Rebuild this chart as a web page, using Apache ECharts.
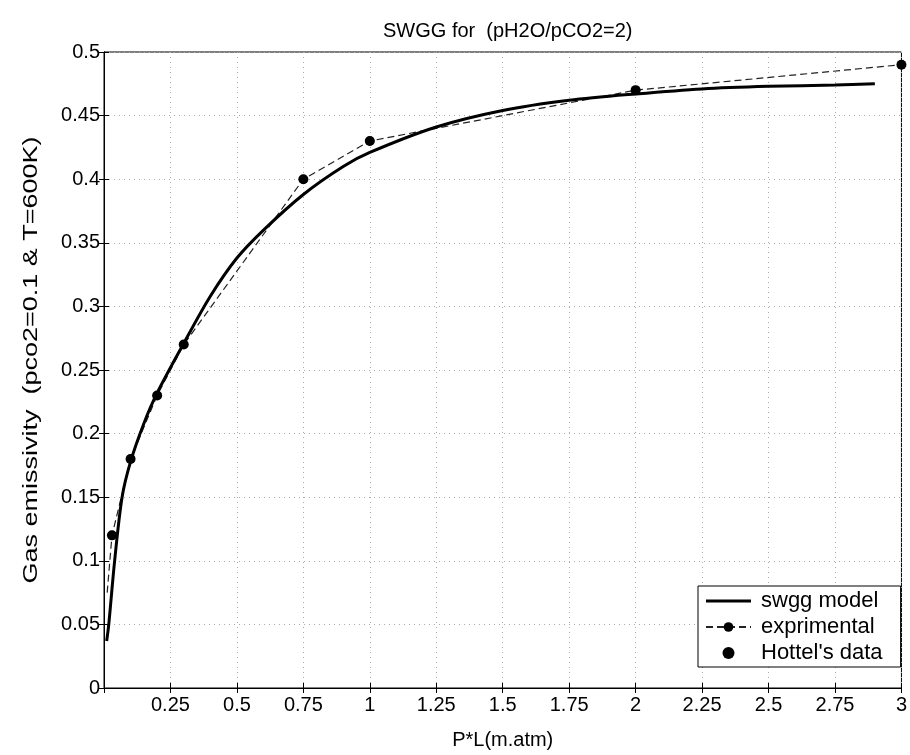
<!DOCTYPE html>
<html>
<head>
<meta charset="utf-8">
<script src="https://cdn.jsdelivr.net/npm/echarts@6/dist/echarts.min.js"></script>
<style>
  html, body { margin: 0; padding: 0; background: #fff; }
  #chart { width: 910px; height: 755px; }
</style>
</head>
<body>
<div id="chart"></div>
<script>
// swgg model curve
const modelX = [0.01, 0.018, 0.04, 0.068, 0.1, 0.15, 0.2, 0.3, 0.4, 0.5, 0.6, 0.75, 0.9, 1.0, 1.25, 1.5, 1.75, 2.0, 2.25, 2.5, 2.75, 2.9];
const modelY = [0.037, 0.05, 0.1, 0.15, 0.178, 0.208, 0.232, 0.271, 0.308, 0.338, 0.36, 0.388, 0.41, 0.421, 0.441, 0.454, 0.462, 0.467, 0.471, 0.473, 0.474, 0.475];

// experimental (dashed) line, first point has no marker
const expX = [0.012, 0.03, 0.1, 0.2, 0.3, 0.75, 1.0, 2.0, 3.0];
const expY = [0.075, 0.12, 0.18, 0.23, 0.27, 0.40, 0.43, 0.47, 0.49];

// Hottel's data points
const hottelX = [0.03, 0.1, 0.2, 0.3, 0.75, 1.0, 2.0, 3.0];
const hottelY = [0.12, 0.18, 0.23, 0.27, 0.40, 0.43, 0.47, 0.49];

const font = 'Liberation Sans, Arial, sans-serif';
const yName = 'Gas emissivity  (pco2=0.1 & T=600K)';

let myChart = echarts.init(document.getElementById('chart'));

const zip = (xs, ys) => xs.map((x, i) => [x, ys[i]]);

let expData = zip(expX, expY).map((p, i) => i === 0 ? { value: p, symbol: 'none' } : p);

let opt = {
  animation: false,
  backgroundColor: '#fff',
  title: {
    text: 'SWGG for  (pH2O/pCO2=2)',
    left: 378,
    top: 16,
    textStyle: { color: '#000', fontWeight: 'normal', fontSize: 20, fontFamily: font }
  },
  graphic: [{
    type: 'text',
    x: 31,
    y: 360,
    rotation: Math.PI / 2,
    scaleX: 1.35,
    style: {
      text: yName,
      fill: '#000',
      font: '20px ' + font,
      align: 'center',
      verticalAlign: 'middle'
    }
  }],
  grid: {
    left: 104, right: 6, top: 52, bottom: 64,
    show: true, borderColor: '#000', borderWidth: 1
  },
  legend: {
    orient: 'vertical',
    left: 698,
    bottom: 88,
    itemWidth: 45,
    itemHeight: 12,
    itemGap: 4,
    padding: [4, 18, 3, 7],
    backgroundColor: '#fff',
    borderColor: '#000',
    borderWidth: 1,
    textStyle: { color: '#000', fontSize: 22, fontFamily: font, padding: [0, 0, 0, 5] },
    data: [
      { name: 'swgg model', icon: 'path://M0,0 L45,0 L45,3 L0,3 Z' },
      { name: 'exprimental' },
      { name: "Hottel's data", icon: 'circle' }
    ]
  },
  xAxis: [{
    type: 'value',
    min: 0, max: 3, interval: 0.25,
    name: 'P*L(m.atm)',
    nameLocation: 'middle',
    nameGap: 42,
    nameTextStyle: { color: '#000', fontSize: 20, fontFamily: font },
    axisLine: { lineStyle: { color: '#000' } },
    axisTick: { inside: true, length: 5, lineStyle: { color: '#000' } },
    axisLabel: {
      color: '#000', fontSize: 20, fontFamily: font, margin: 7,
      formatter: v => v === 0 ? '' : String(v)
    },
    splitLine: { show: true, lineStyle: { color: '#aaa', type: [1, 4], width: 1 } }
  }, {
    type: 'value', position: 'top',
    min: 0, max: 3, interval: 0.25,
    axisLine: { lineStyle: { color: '#000' } },
    axisTick: { inside: true, length: 5, lineStyle: { color: '#000' } },
    axisLabel: { show: false },
    splitLine: { show: false }
  }],
  yAxis: [{
    type: 'value',
    min: 0, max: 0.5, interval: 0.05,
    axisLine: { show: true, lineStyle: { color: '#000' } },
    axisTick: { show: true, inside: true, length: 5, lineStyle: { color: '#000' } },
    axisLabel: { color: '#000', fontSize: 20, fontFamily: font, margin: 4 },
    splitLine: { show: true, lineStyle: { color: '#aaa', type: [1, 4], width: 1 } }
  }, {
    type: 'value', position: 'right',
    min: 0, max: 0.5, interval: 0.05,
    axisLine: { show: true, lineStyle: { color: '#000' } },
    axisTick: { show: true, inside: true, length: 5, lineStyle: { color: '#000' } },
    axisLabel: { show: false },
    splitLine: { show: false }
  }],
  series: [
    {
      name: 'swgg model',
      type: 'line',
      smooth: 0.3,
      showSymbol: false,
      symbol: 'none',
      lineStyle: { color: '#000', width: 3 },
      itemStyle: { color: '#000' },
      data: zip(modelX, modelY),
      z: 3
    },
    {
      name: 'exprimental',
      type: 'line',
      symbol: 'circle',
      symbolSize: 9,
      lineStyle: { color: '#222', width: 1.2, type: [7, 4] },
      itemStyle: { color: '#000' },
      data: expData,
      z: 2
    },
    {
      name: "Hottel's data",
      type: 'scatter',
      symbol: 'circle',
      symbolSize: 10,
      itemStyle: { color: '#000', opacity: 1 },
      data: zip(hottelX, hottelY),
      z: 4
    }
  ]
};
myChart.setOption(opt);
</script>
</body>
</html>
